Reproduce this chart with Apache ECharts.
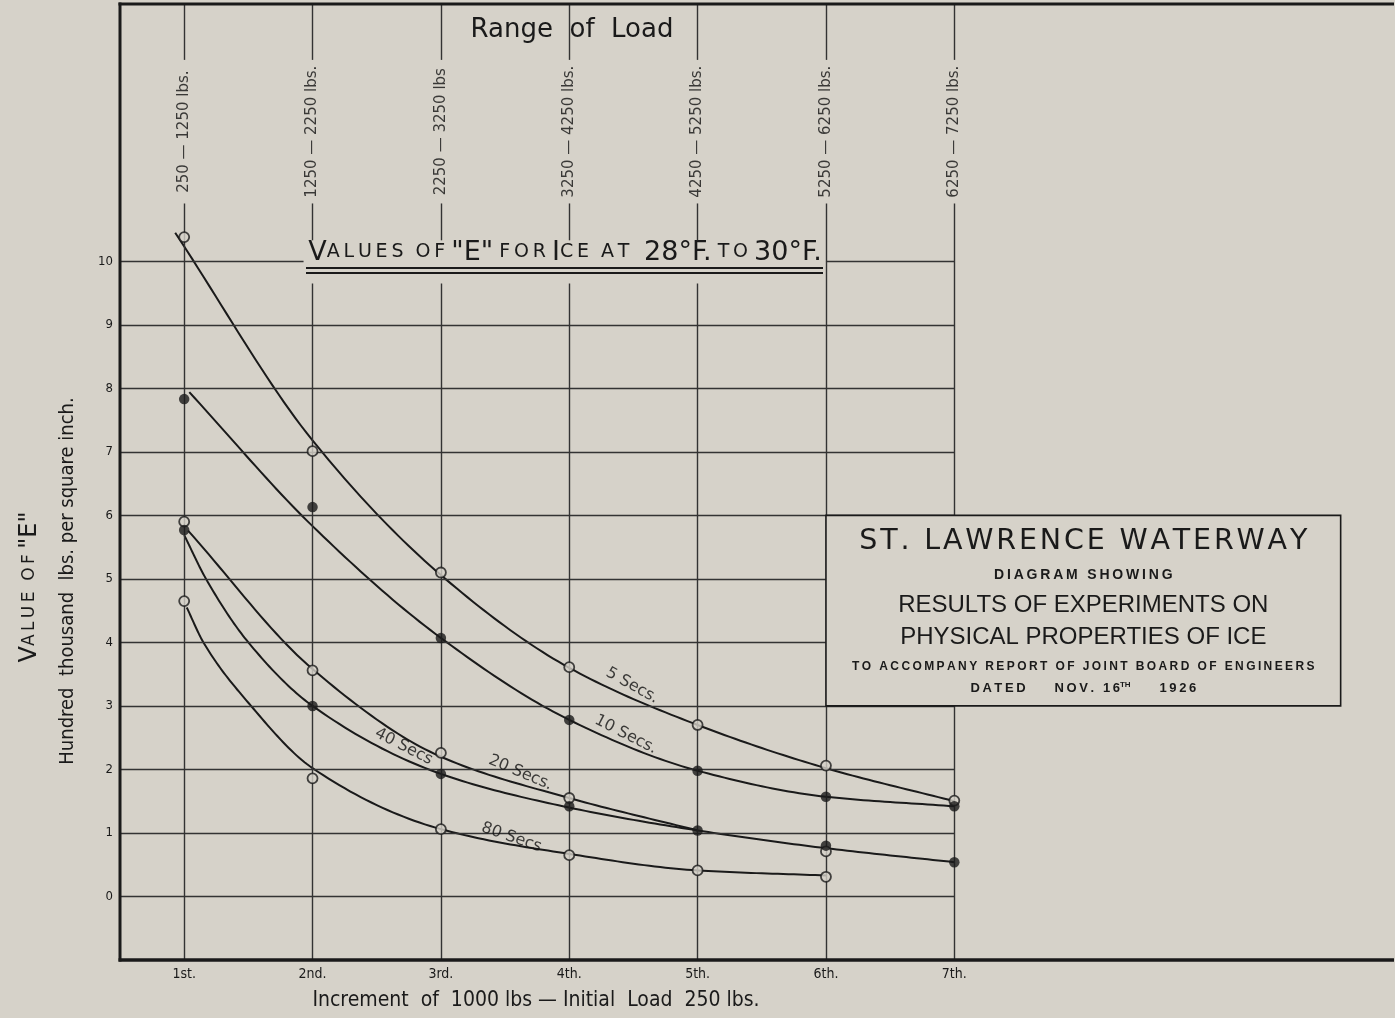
<!DOCTYPE html>
<html>
<head>
<meta charset="utf-8">
<title>St. Lawrence Waterway – Values of E for Ice</title>
<script src="https://cdn.jsdelivr.net/npm/echarts@6/dist/echarts.min.js"></script>
<style>
  html, body { margin: 0; padding: 0; background: #d6d2c9; }
  #chart { width: 1395px; height: 1018px; }
</style>
</head>
<body>
<div id="chart"></div>
<script>
// ---- data ---------------------------------------------------------------
const incrementLabels = ['1st.', '2nd.', '3rd.', '4th.', '5th.', '6th.', '7th.'];
const loadRanges = ['250 — 1250 lbs.', '1250 — 2250 lbs.', '2250 — 3250 lbs', '3250 — 4250 lbs.',
                    '4250 — 5250 lbs.', '5250 — 6250 lbs.', '6250 — 7250 lbs.'];
const valueTicks = [0, 1, 2, 3, 4, 5, 6, 7, 8, 9, 10];
const durationNames = ['5 Secs.', '10 Secs.', '20 Secs.', '40 Secs', '80 Secs'];

// observed E (hundred thousand lbs. per sq. in.) for each load increment
const obs5  = [10.38, 7.01, 5.10, 3.61, 2.70, 2.06, 1.51];
const obs10 = [7.83, 6.13, 4.07, 2.78, 1.98, 1.57, 1.42];
const obs20 = [5.90, 3.56, 2.26, 1.55, null, 0.71, null];
const obs40 = [5.77, 3.00, 1.93, 1.42, 1.04, 0.80, 0.54];
const obs80 = [4.65, 1.86, 1.06, 0.65, 0.41, 0.31, null];

// faired curves, [increment, E]
const fit5  = [[0.93, 10.45], [2, 7.18], [3, 5.06], [4, 3.6], [5, 2.7], [6, 2.02], [7, 1.5]];
const fit10 = [[1.04, 7.94], [2, 5.83], [3, 4.07], [4, 2.78], [5, 1.98], [6, 1.57], [7, 1.42]];
const fit20 = [[1.03, 5.76], [2, 3.58], [3, 2.2], [4, 1.55], [5, 1.04]];
const fit40 = [[1.0, 5.69], [1.17, 5], [1.5, 4], [2, 3.0], [3, 1.93], [4, 1.40], [5, 1.04], [6, 0.76], [7, 0.54]];
const fit80 = [[1.02, 4.55], [1.15, 4], [1.5, 3.05], [2, 2.02], [3, 1.06], [4, 0.67], [5, 0.41], [6, 0.33]];

// ---- styling --------------------------------------------------------------
const INK = '#1a1a1a';
const GRID_INK = '#333333';
const PAPER = '#d6d2c9';
const LETTER = "'DejaVu Sans', 'Liberation Sans', sans-serif";
const NARROW = "'DejaVu Sans Condensed', 'Liberation Sans Narrow', 'DejaVu Sans', sans-serif";
const X_MIN = 0.5, X_MAX = 10.41, Y_MIN = -1, Y_MAX = 14.05;

// ruled grid: horizontal rules stop short of the title and caption box,
// vertical rules break for the load-range notes, the title and the box
function horizontalRules() {
  const segs = [];
  valueTicks.forEach(v => {
    if (v === 10) { segs.push([X_MIN, v, 1.93, v]); segs.push([6, v, 7, v]); }
    else if (v === 4 || v === 5) segs.push([X_MIN, v, 6, v]);
    else segs.push([X_MIN, v, 7, v]);
  });
  return segs;
}
function verticalRules() {
  const segs = [];
  incrementLabels.forEach((_, i) => {
    const x = i + 1;
    const cuts = [[10.91, 13.17]];
    if (x >= 2 && x <= 5) cuts.push([9.65, 10.33]);
    if (x === 7) cuts.push([3, 6]);
    cuts.sort((a, b) => a[0] - b[0]);
    let y0 = Y_MIN;
    cuts.forEach(c => { segs.push([x, y0, x, c[0]]); y0 = c[1]; });
    segs.push([x, y0, x, Y_MAX]);
  });
  return segs;
}
const rules = horizontalRules().concat(verticalRules())
  .map(s => [{ coord: [s[0], s[1]] }, { coord: [s[2], s[3]] }]);

// monotone cubic through pixel points (x increasing), sampled for drawing
function monotone(pts, steps) {
  const n = pts.length;
  const dx = [], m = [];
  for (let i = 0; i < n - 1; i++) {
    dx.push(pts[i + 1][0] - pts[i][0]);
    m.push((pts[i + 1][1] - pts[i][1]) / dx[i]);
  }
  const t = [m[0]];
  for (let i = 1; i < n - 1; i++) {
    if (m[i - 1] * m[i] <= 0) { t.push(0); continue; }
    const w1 = 2 * dx[i] + dx[i - 1], w2 = dx[i] + 2 * dx[i - 1];
    t.push((w1 + w2) / (w1 / m[i - 1] + w2 / m[i]));
  }
  t.push(m[n - 2]);
  const out = [];
  for (let i = 0; i < n - 1; i++) {
    const h = dx[i];
    for (let s = 0; s < steps; s++) {
      const u = s / steps, u2 = u * u, u3 = u2 * u;
      const y = (2 * u3 - 3 * u2 + 1) * pts[i][1] + (u3 - 2 * u2 + u) * h * t[i] +
                (-2 * u3 + 3 * u2) * pts[i + 1][1] + (u3 - u2) * h * t[i + 1];
      out.push([pts[i][0] + u * h, y]);
    }
  }
  out.push(pts[n - 1]);
  return out;
}

function points(arr) {
  return arr.map((v, i) => (v == null ? null : [i + 1, v])).filter(p => p);
}
function curve(data) {
  return {
    type: 'custom', data: [data[0]], silent: true, z: 3, animation: false,
    renderItem: (params, api) => ({
      type: 'polyline',
      shape: { points: monotone(data.map(d => api.coord(d)), 24) },
      style: { stroke: INK, lineWidth: 2, fill: null }
    })
  };
}
function marks(arr, open) {
  return {
    type: 'scatter', data: points(arr), symbol: 'circle', symbolSize: open ? 10 : 10.5, z: 5,
    itemStyle: open ? { color: PAPER, borderColor: INK, borderWidth: 1.8 } : { color: INK },
    silent: true, animation: false
  };
}
function note(text, x, y, rot) {
  return { value: [x, y], label: { formatter: text, rotate: rot } };
}

const chart = echarts.init(document.getElementById('chart'));

const option = {
  backgroundColor: PAPER,
  animation: false,
  grid: { left: 120, top: 4, right: 0, bottom: 58, show: false },
  xAxis: {
    type: 'value', min: X_MIN, max: X_MAX, interval: 0.5,
    axisLine: { show: false }, axisTick: { show: false }, splitLine: { show: false },
    axisLabel: {
      margin: 7, color: INK, fontFamily: NARROW, fontSize: 14,
      formatter: v => (Number.isInteger(v) && v >= 1 && v <= 7 ? incrementLabels[v - 1] : '')
    }
  },
  yAxis: {
    type: 'value', min: Y_MIN, max: Y_MAX, interval: 1,
    axisLine: { show: false }, axisTick: { show: false }, splitLine: { show: false },
    axisLabel: {
      margin: 7, color: INK, fontFamily: NARROW, fontSize: 13,
      formatter: v => (valueTicks.indexOf(v) >= 0 ? String(v) : '')
    }
  },
  series: [
    {
      type: 'line', data: [[X_MIN, Y_MIN]], symbol: 'none', lineStyle: { opacity: 0 }, silent: true,
      markLine: {
        silent: true, symbol: ['none', 'none'], label: { show: false }, animation: false,
        lineStyle: { color: GRID_INK, width: 1.4, type: 'solid' },
        data: rules
      }
    },
    curve(fit5), curve(fit10), curve(fit20), curve(fit40), curve(fit80),
    marks(obs5, true), marks(obs10, false), marks(obs20, true), marks(obs40, false), marks(obs80, true),
    {
      // load range notes written along the vertical rules
      type: 'scatter', symbolSize: 0, silent: true, z: 6,
      data: loadRanges.map((t, i) => ({ value: [i + 1, 12.04], label: { formatter: t } })),
      label: { show: true, position: 'inside', rotate: 90, color: '#111', fontFamily: LETTER, fontSize: 15 }
    },
    {
      // duration names written along each curve
      type: 'scatter', symbolSize: 0, silent: true, z: 6,
      data: [
        note(durationNames[0], 4.49, 3.32, -29),
        note(durationNames[1], 4.44, 2.55, -27),
        note(durationNames[2], 3.62, 1.95, -23),
        note(durationNames[3], 2.71, 2.36, -27),
        note(durationNames[4], 3.55, 0.93, -19)
      ],
      label: { show: true, position: 'inside', color: '#111', fontFamily: LETTER, fontSize: 16 }
    }
  ]
};
chart.setOption(option);

// ---- frame and lettering --------------------------------------------------
const px = (x, y) => chart.convertToPixel({ gridIndex: 0 }, [x, y]);
const tl = px(X_MIN, Y_MAX), br = px(X_MAX, Y_MIN);
const boxTL = px(6, 6), boxBR = px(10.01, 3);
const boxCx = (boxTL[0] + boxBR[0]) / 2;

function sc(big, small) {
  return {
    big: { fontSize: big, fontFamily: LETTER, color: INK },
    sm: { fontSize: small, fontFamily: LETTER, color: INK }
  };
}
const thin = '\u2009', hair = '\u200A';
const spaced = s => s.split('').join(thin);
const hairSpaced = s => s.split('').join(hair);
const boxFont = "'Liberation Sans', 'DejaVu Sans', sans-serif";

const graphic = [
  // frame: left, top and bottom edges (the right edge runs off the sheet)
  { type: 'line', z: 8, shape: { x1: tl[0], y1: tl[1] - 1.5, x2: tl[0], y2: br[1] + 1.5 }, style: { stroke: INK, lineWidth: 3 } },
  { type: 'line', z: 8, shape: { x1: tl[0] - 1.5, y1: tl[1], x2: br[0] + 2, y2: tl[1] }, style: { stroke: INK, lineWidth: 3 } },
  { type: 'line', z: 8, shape: { x1: tl[0] - 1.5, y1: br[1], x2: br[0] + 2, y2: br[1] }, style: { stroke: INK, lineWidth: 3.5 } },

  { type: 'text', x: 572, y: 30, style: { text: 'Range  of  Load', font: "26px " + LETTER, fill: INK, textAlign: 'center', textVerticalAlign: 'middle' } },
  {
    type: 'text', x: 565, y: 266,
    style: {
      text: '{big|V}{sm|' + spaced('ALUES') + '  ' + spaced('OF') + ' }{big|"E"}{sm| ' + spaced('FOR') + ' }{big|I}{sm|' +
            spaced('CE') + '  ' + spaced('AT') + ' }{big| 28°F.}{sm| ' + spaced('TO') + ' }{big|30°F.}',
      rich: sc(27, 19), textAlign: 'center', textVerticalAlign: 'bottom', fill: INK
    }
  },
  { type: 'line', shape: { x1: 306, y1: 268, x2: 823, y2: 268 }, style: { stroke: INK, lineWidth: 2 } },
  { type: 'line', shape: { x1: 306, y1: 273, x2: 823, y2: 273 }, style: { stroke: INK, lineWidth: 2 } },
  {
    type: 'text', x: 30, y: 587, rotation: Math.PI / 2,
    style: {
      text: '{big|V}{sm|' + spaced('ALUE') + '  ' + spaced('OF') + ' }{big|"E"}',
      rich: sc(24, 17), textAlign: 'center', textVerticalAlign: 'middle', fill: INK
    }
  },
  {
    type: 'text', x: 68, y: 581, rotation: Math.PI / 2,
    style: { text: 'Hundred  thousand  lbs. per square inch.', font: "20px " + NARROW, fill: INK, textAlign: 'center', textVerticalAlign: 'middle' }
  },
  {
    type: 'text', x: 536, y: 1001,
    style: { text: 'Increment  of  1000 lbs — Initial  Load  250 lbs.', font: "21px " + NARROW, fill: INK, textAlign: 'center', textVerticalAlign: 'middle' }
  },

  // caption box
  {
    type: 'rect', z: 10,
    shape: { x: boxTL[0], y: boxTL[1], width: boxBR[0] - boxTL[0], height: boxBR[1] - boxTL[1] },
    style: { fill: PAPER, stroke: INK, lineWidth: 1.6 }
  },
  { type: 'text', z: 11, x: boxCx, y: 542, style: { text: hairSpaced('ST. LAWRENCE WATERWAY'), font: "28.5px " + LETTER, fill: INK, textAlign: 'center', textVerticalAlign: 'middle' } },
  { type: 'text', z: 11, x: boxCx, y: 575, style: { text: spaced('DIAGRAM SHOWING'), font: "bold 14px " + boxFont, fill: INK, textAlign: 'center', textVerticalAlign: 'middle' } },
  { type: 'text', z: 11, x: boxCx, y: 605, style: { text: 'RESULTS OF EXPERIMENTS ON', font: "24px " + boxFont, fill: INK, textAlign: 'center', textVerticalAlign: 'middle' } },
  { type: 'text', z: 11, x: boxCx, y: 637, style: { text: 'PHYSICAL PROPERTIES OF ICE', font: "24px " + boxFont, fill: INK, textAlign: 'center', textVerticalAlign: 'middle' } },
  { type: 'text', z: 11, x: boxCx, y: 667, style: { text: spaced('TO ACCOMPANY REPORT OF JOINT BOARD OF ENGINEERS'), font: "bold 12px " + boxFont, fill: INK, textAlign: 'center', textVerticalAlign: 'middle' } },
  {
    type: 'text', z: 11, x: boxCx, y: 688,
    style: {
      text: '{a|' + spaced('DATED') + '        ' + spaced('NOV. 16') + '}{s|TH}{a|        ' + spaced('1926') + '}',
      rich: {
        a: { font: "bold 13px " + boxFont, fill: INK },
        s: { font: "bold 8px " + boxFont, fill: INK, verticalAlign: 'top', padding: [0, 0, 6, 0] }
      },
      textAlign: 'center', textVerticalAlign: 'middle'
    }
  }
];

chart.setOption({ graphic: graphic });
</script>
</body>
</html>
